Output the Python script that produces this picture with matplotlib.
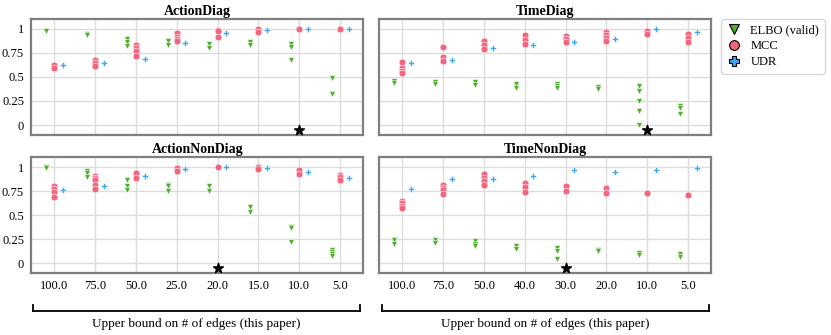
import numpy as np
import matplotlib
matplotlib.use('Agg')
import matplotlib.pyplot as plt
from matplotlib.lines import Line2D

plt.rcParams['font.family'] = 'serif'
plt.rcParams['font.serif'] = ['Liberation Serif', 'DejaVu Serif']

# values, one list of seeds per category
action_ticks = ['100.0', '75.0', '50.0', '25.0', '20.0', '15.0', '10.0', '5.0']
time_ticks = ['100.0', '75.0', '50.0', '40.0', '30.0', '20.0', '10.0', '5.0']

action_diag_elbo = [[0.98, 0.975], [0.944, 0.93], [0.889, 0.865, 0.816], [0.868, 0.826],
                    [0.844, 0.802], [0.865, 0.833], [0.84, 0.813, 0.674], [0.49, 0.323]]
action_diag_mcc = [[0.625, 0.597], [0.677, 0.642, 0.608], [0.83, 0.795, 0.764, 0.712],
                   [0.951, 0.917, 0.896, 0.868], [0.99, 0.972, 0.913], [1.0, 0.962], [1.0], [0.993]]
action_diag_udr = [0.62, 0.639, 0.688, 0.854, 0.951, 0.983, 1.0, 0.993]
action_diag_star = 6

action_nondiag_elbo = [[1.0, 0.99], [0.955, 0.934, 0.892], [0.868, 0.806, 0.767], [0.819, 0.802, 0.75],
                       [0.806, 0.75], [0.587, 0.538], [0.382, 0.365, 0.219], [0.135, 0.118, 0.097, 0.08]]
action_nondiag_mcc = [[0.799, 0.771, 0.743, 0.694], [0.91, 0.885, 0.861, 0.819, 0.774], [0.934, 0.882],
                      [0.99, 0.962], [1.0], [0.997, 0.976], [0.969, 0.931], [0.917, 0.896, 0.865]]
action_nondiag_udr = [0.76, 0.806, 0.903, 0.976, 1.0, 0.986, 0.944, 0.885]
action_nondiag_star = 4

time_diag_elbo = [[0.458, 0.434], [0.448, 0.427], [0.444, 0.42], [0.43, 0.385], [0.43, 0.406, 0.382],
                  [0.396, 0.378], [0.406, 0.358, 0.25, 0.142, 0.003], [0.201, 0.177, 0.118]]
time_diag_mcc = [[0.656, 0.59, 0.562, 0.538], [0.809, 0.705, 0.663], [0.868, 0.83, 0.785],
                 [0.93, 0.882, 0.844], [0.92, 0.892, 0.865], [0.969, 0.937, 0.903, 0.868],
                 [0.979, 0.944], [0.944, 0.906, 0.861]]
time_diag_udr = [0.646, 0.674, 0.802, 0.833, 0.865, 0.896, 0.997, 0.969]
time_diag_star = 6

time_nondiag_elbo = [[0.247, 0.198], [0.247, 0.215], [0.229, 0.201, 0.184], [0.184, 0.149],
                     [0.163, 0.132, 0.042], [0.142, 0.125], [0.104, 0.083], [0.097, 0.066]]
time_nondiag_mcc = [[0.646, 0.622, 0.597, 0.576], [0.813, 0.785, 0.757, 0.722], [0.924, 0.889, 0.858, 0.81],
                    [0.83, 0.795, 0.743], [0.802, 0.753], [0.785, 0.729], [0.729], [0.708]]
time_nondiag_udr = [0.771, 0.872, 0.878, 0.906, 0.972, 0.948, 0.972, 0.99]
time_nondiag_star = 4

green = '#4fae2b'
pink = '#f2657e'
blue = '#3ea6ee'
off = 0.21

fig = plt.figure(figsize=(8.31, 3.35), dpi=100)
W = 0.4
H = 0.345
panels = [
    ('ActionDiag', [0.0373, 0.598, W, H], action_diag_elbo, action_diag_mcc, action_diag_udr, action_diag_star, None),
    ('TimeDiag', [0.4561, 0.598, W, H], time_diag_elbo, time_diag_mcc, time_diag_udr, time_diag_star, None),
    ('ActionNonDiag', [0.0373, 0.185, W, H], action_nondiag_elbo, action_nondiag_mcc, action_nondiag_udr, action_nondiag_star, action_ticks),
    ('TimeNonDiag', [0.4561, 0.185, W, H], time_nondiag_elbo, time_nondiag_mcc, time_nondiag_udr, time_nondiag_star, time_ticks),
]

for title, rect, elbo, mcc, udr, star, ticks in panels:
    ax = fig.add_axes(rect)
    for i in range(len(elbo)):
        ax.scatter([i - off] * len(elbo[i]), elbo[i], marker='v', s=18, color=green,
                   edgecolor='white', linewidth=0.4, zorder=3)
        ax.scatter([i] * len(mcc[i]), mcc[i], marker='o', s=24, color=pink,
                   edgecolor='white', linewidth=0.4, zorder=3)
    ax.scatter(np.arange(len(udr)) + off, udr, marker='P', s=24, color=blue,
               edgecolor='white', linewidth=0.4, zorder=3)
    ax.scatter([star], [-0.05], marker='*', s=55, color='black', zorder=4)
    ax.set_xlim(-0.57, 7.57)
    ax.set_ylim(-0.1, 1.1)
    ax.set_xticks(range(8))
    ax.set_yticks([0, 0.25, 0.5, 0.75, 1])
    ax.grid(True, color='#dcdcdc', linewidth=1)
    ax.set_axisbelow(True)
    for s in ax.spines.values():
        s.set_color('#7f7f7f')
        s.set_linewidth(1.6)
    ax.tick_params(length=0, labelsize=9, pad=5)
    if rect[0] < 0.1:
        ax.set_yticklabels(['0', '0.25', '0.5', '0.75', '1'])
    else:
        ax.set_yticklabels([])
    if ticks is not None:
        ax.set_xticklabels(ticks)
    else:
        ax.set_xticklabels([])
    ax.set_title(title, fontsize=10, fontweight='bold', pad=3)

# brackets under each column
for x0, x1 in [(33, 360), (382, 709)]:
    fx0, fx1 = x0 / 831, x1 / 831
    yb, yt = 1 - 311 / 335, 1 - 305 / 335
    fig.add_artist(Line2D([fx0, fx1], [yb, yb], color='black', lw=1.3))
    fig.add_artist(Line2D([fx0, fx0], [yb, yt], color='black', lw=1.3))
    fig.add_artist(Line2D([fx1, fx1], [yb, yt], color='black', lw=1.3))
    fig.text((fx0 + fx1) / 2, 1 - 324 / 335, 'Upper bound on # of edges (this paper)',
             ha='center', va='center', fontsize=9.5)

handles = [
    Line2D([], [], linestyle='none', marker='v', markersize=7, markerfacecolor=green, markeredgecolor='black', markeredgewidth=0.8),
    Line2D([], [], linestyle='none', marker='o', markersize=7, markerfacecolor=pink, markeredgecolor='black', markeredgewidth=0.8),
    Line2D([], [], linestyle='none', marker='P', markersize=7, markerfacecolor=blue, markeredgecolor='black', markeredgewidth=0.8),
]
fig.legend(handles, ['ELBO (valid)', 'MCC', 'UDR'], loc='upper left',
           bbox_to_anchor=(721 / 831, 1 - 19 / 335), borderaxespad=0, fontsize=9,
           frameon=True, handlelength=1.2, handletextpad=0.7, borderpad=0.45,
           labelspacing=0.3)

plt.savefig('out.png', dpi=100)
